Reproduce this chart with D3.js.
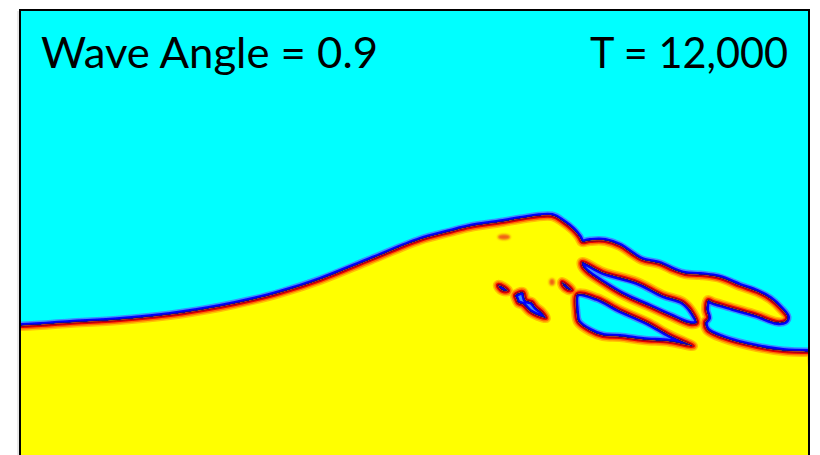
<!DOCTYPE html>
<html>
<head>
<meta charset="utf-8">
<script src="https://cdn.jsdelivr.net/npm/d3@7"></script>
<style>
  html, body { margin: 0; padding: 0; background: #fff; }
  svg { display: block; }
</style>
</head>
<body>
<div id="chart"></div>
<script>
// model grid cells: x = alongshore cell, y = cross-shore cell (down from top)
var waveAngle = 0.9;
var timeStep = 12000;

var shoreline = [
  [0, 79], [12.25, 78.25], [24.75, 77.5], [37.25, 76.25], [49.75, 74.25],
  [58, 72.5], [64.75, 70.75], [74.75, 67.5], [87.25, 62.5], [99.75, 57.5],
  [107.25, 55.5], [112.25, 54.25], [120.5, 53], [124.75, 52.25], [132.75, 51.5],
  [135.5, 53], [138, 55], [139.5, 56.75], [140.25, 58], [142.25, 57.75],
  [146, 57.75], [149.75, 59], [152.75, 61], [155.25, 62.5], [159.75, 63.5],
  [163, 65], [166, 66], [169.75, 66.25], [174.75, 67], [179.75, 69],
  [184, 70.5], [187.25, 72.25], [189.75, 74.5], [191.5, 76.75], [191, 77.75],
  [189, 78], [184, 76.25], [178, 74.5], [173, 73], [171.75, 72.5],
  [171.25, 75], [171.75, 77], [171, 78], [171.5, 80], [175.5, 82],
  [184, 84.25], [190.5, 85.25], [197.75, 85.5]
];

var lagoonA = [
  [140.25, 63], [145.5, 65.5], [154, 68], [160.5, 71.25], [165.5, 73],
  [168, 75.75], [169, 78.25], [167.25, 78.5], [162.25, 76.5], [157.25, 74.25],
  [150.5, 71.25], [145.5, 68.25], [141.5, 65.5], [140.25, 64]
];

var lagoonB = [
  [139, 71], [144, 72], [149.75, 75], [156.5, 78], [162.25, 81.25],
  [168, 84], [162.25, 83], [155.5, 82.5], [149.75, 81.75], [145.5, 81.5],
  [142.25, 80.25], [139.25, 78], [138.75, 75.5]
];

var lagoonC = [
  [123.5, 71.25], [125.5, 70.5], [126.25, 72.5], [127.75, 73], [128.75, 74.25],
  [130.25, 75.5], [131.25, 77], [129.25, 76.5], [127.25, 75.5], [125.5, 73.75],
  [124.25, 73.25], [123.75, 72.25]
];

var lagoonD = [
  [119.25, 68.75], [120.75, 69.25], [121.75, 70.25], [120.5, 70.25], [119.5, 69.5]
];

var lagoonE = [
  [135.25, 68], [136.5, 68.75], [137.75, 70], [136.75, 70], [135.5, 69]
];

// wet patches that never open up: [x, y, rx, ry]
var spots = [
  [120.75, 56.75, 1.6, 0.7],
  [132.75, 68, 0.7, 0.9]
];

var width = 820, height = 455;

var x = d3.scaleLinear().domain([0, 197]).range([21, 809]);
var y = d3.scaleLinear().domain([0, 112]).range([10, 458]);

var svg = d3.select("#chart").append("svg")
  .attr("width", width)
  .attr("height", height);

var defs = svg.append("defs");

defs.append("clipPath").attr("id", "frameClip")
  .append("rect")
  .attr("x", 21).attr("y", 11)
  .attr("width", 787).attr("height", 460);

var openLine = d3.line()
  .x(d => x(d[0])).y(d => y(d[1]))
  .curve(d3.curveCatmullRom.alpha(0.5));
var closedLine = d3.line()
  .x(d => x(d[0])).y(d => y(d[1]))
  .curve(d3.curveCatmullRomClosed.alpha(0.5));

var shore = [[-3, shoreline[0][1]]].concat(shoreline);
var landPath = openLine(shore) +
  "L" + x(200) + "," + y(120) + "L" + x(-3) + "," + y(120) + "Z" +
  [lagoonA, lagoonB, lagoonC, lagoonD, lagoonE].map(closedLine).join("");

defs.append("clipPath").attr("id", "landClip")
  .append("path")
  .attr("d", landPath)
  .attr("clip-rule", "evenodd");

defs.append("filter").attr("id", "soft")
  .attr("x", "-5%").attr("y", "-5%").attr("width", "110%").attr("height", "110%")
  .append("feGaussianBlur").attr("stdDeviation", 0.7);

defs.append("filter").attr("id", "softer")
  .append("feGaussianBlur").attr("stdDeviation", 1.1);

var plot = svg.append("g").attr("clip-path", "url(#frameClip)");
var field = plot.append("g").attr("filter", "url(#soft)");

field.append("rect")
  .attr("x", 0).attr("y", 0)
  .attr("width", width).attr("height", height + 20)
  .attr("fill", "#00ffff");

// water side of the interface
[["#3c8cff", 9], ["#0000ff", 6], ["#18088c", 2.4]].forEach(s => {
  field.append("path")
    .attr("d", landPath)
    .attr("fill", "none")
    .attr("stroke", s[0])
    .attr("stroke-width", s[1])
    .attr("stroke-linejoin", "round");
});

field.append("path")
  .attr("d", landPath)
  .attr("fill", "#ffff00")
  .attr("fill-rule", "evenodd");

// land side of the interface
var inner = field.append("g").attr("clip-path", "url(#landClip)");
[["#ffc000", 10], ["#ff7000", 7], ["#e80000", 4], ["#800020", 1.6]].forEach(s => {
  inner.append("path")
    .attr("d", landPath)
    .attr("fill", "none")
    .attr("stroke", s[0])
    .attr("stroke-width", s[1])
    .attr("stroke-linejoin", "round");
});

plot.append("g").attr("filter", "url(#softer)")
  .selectAll("ellipse")
  .data(spots)
  .enter()
  .append("ellipse")
  .attr("cx", d => x(d[0]))
  .attr("cy", d => y(d[1]))
  .attr("rx", d => x(d[2]) - x(0))
  .attr("ry", d => y(d[3]) - y(0))
  .attr("fill", "#f06018");

// frame
svg.append("line").attr("x1", 18).attr("x2", 18).attr("y1", 11).attr("y2", height)
  .attr("stroke", "#d0d0d0").attr("stroke-width", 1);
svg.append("rect")
  .attr("x", 20).attr("y", 10)
  .attr("width", 789).attr("height", 480)
  .attr("fill", "none")
  .attr("stroke", "#000")
  .attr("stroke-width", 2);

svg.append("text")
  .attr("x", 41).attr("y", 68)
  .attr("font-family", "Lato, 'Open Sans', sans-serif")
  .attr("font-size", 42)
  .attr("textLength", 337)
  .attr("lengthAdjust", "spacingAndGlyphs")
  .attr("fill", "#000")
  .text("Wave Angle = " + waveAngle);

svg.append("text")
  .attr("x", 788).attr("y", 68)
  .attr("text-anchor", "end")
  .attr("font-family", "Lato, 'Open Sans', sans-serif")
  .attr("font-size", 42)
  .attr("textLength", 198)
  .attr("lengthAdjust", "spacingAndGlyphs")
  .attr("fill", "#000")
  .text("T = " + d3.format(",")(timeStep));
</script>
</body>
</html>
